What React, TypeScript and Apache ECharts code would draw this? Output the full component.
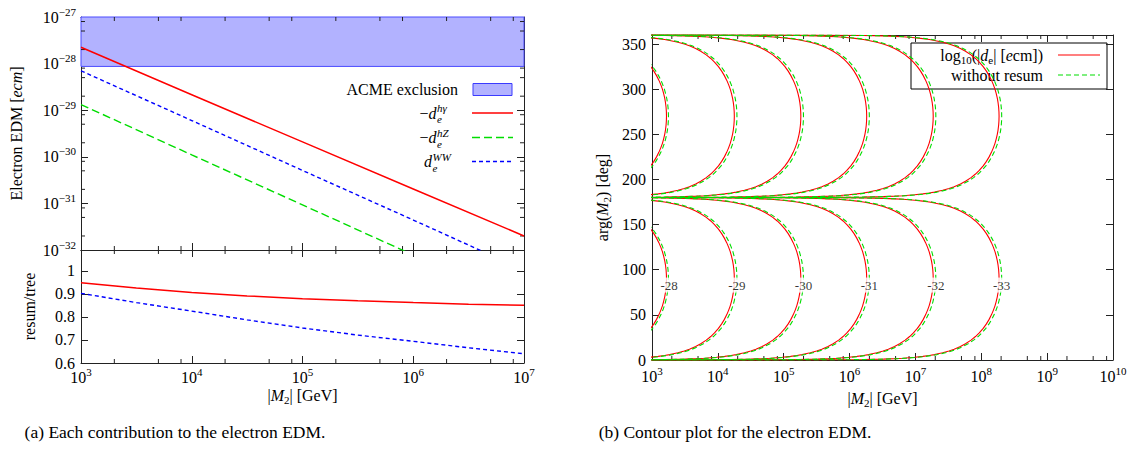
import React, { useEffect, useRef } from "react";
import * as echarts from "echarts";

const SERIF = "Liberation Serif, DejaVu Serif, serif";
const RED = "#ff0000";
const GREEN = "#00dd00";
const BLUE = "#0000ff";
const INK = "#222222";

// ---------- panel (a), upper: electron EDM contributions [e cm] ----------
const massA = [1e3, 1e4, 1e5, 1e6, 1e7];
const edmHGamma = [2.24e-28, 2.14e-29, 2.09e-30, 2.04e-31, 2.0e-32];
const edmHZ = [1.32e-29, 1.1e-30, 9.3e-32, 7.8e-33, 6.5e-34];
const edmWW = [7.0e-29, 6.0e-30, 5.1e-31, 4.4e-32, 3.7e-33];
const acmeLimit = 8.7e-29;
const acmeTop = 1e-27;
const edmAxisMin = 1e-32;
const edmAxisMax = 1e-27;
// values are plotted in units of 1e-32 e cm (labels show the true powers)
const EDM_UNIT = 1e-32;

// ---------- panel (a), lower: resum / tree ----------
const massRatio = [1e3, 3.16e3, 1e4, 3.16e4, 1e5, 3.16e5, 1e6, 3.16e6, 1e7];
const ratioHGamma = [0.948, 0.925, 0.906, 0.891, 0.879, 0.87, 0.862, 0.855, 0.85];
const ratioWW = [0.902, 0.862, 0.825, 0.787, 0.752, 0.721, 0.694, 0.666, 0.64];

// ---------- panel (b): contours of log10|d_e| ----------
const contourLevels = [-28, -29, -30, -31, -32, -33];
const peakLogMassResum = [3.22, 4.25, 5.26, 6.26, 7.27, 8.27];
const peakLogMassTree = [3.25, 4.29, 5.3, 6.3, 7.31, 8.31];
// shape of one contour branch: angle [deg] vs. shift of log10|M2| from the peak
const profileAngle = [0.0003, 0.001, 0.003, 0.01, 0.03, 0.1, 0.2, 0.5, 1, 1.5, 2, 3, 4, 5, 6, 8, 10, 12, 15, 18, 22, 26, 30, 35, 40, 45, 50, 55, 60, 65, 70, 75, 80, 85, 90];
const profileLogOffset = [-5.281, -4.758, -4.281, -3.758, -3.281, -2.758, -2.457, -2.059, -1.758, -1.582, -1.457, -1.281, -1.156, -1.06, -0.981, -0.856, -0.76, -0.682, -0.587, -0.51, -0.426, -0.358, -0.301, -0.241, -0.192, -0.151, -0.116, -0.087, -0.062, -0.043, -0.027, -0.015, -0.0066, -0.0017, 0];
const contourLabelAngle = 83;
const contourLabelShift = 0.04;

// ---------- ticks ----------
const minorMantissa = [2, 5, 8];
const decadesA = [3, 4, 5, 6];
const decadesB = [3, 4, 5, 6, 7, 8, 9];
const decadesEdm = [-32, -31, -30, -29, -28];

const zip = (xs: number[], ys: number[]) => xs.map((x, i) => [x, ys[i]]);
const toUnit = (v: number) => v / EDM_UNIT;
const minorValues = (decs: number[]) => {
  const out: number[] = [];
  decs.forEach((d) => minorMantissa.forEach((m) => out.push(m * Math.pow(10, d))));
  return out;
};

const powRich = {
  b: { fontFamily: SERIF, fontSize: 16, color: "#000", lineHeight: 22 },
  s: { fontFamily: SERIF, fontSize: 11, color: "#000", lineHeight: 12, verticalAlign: "top" },
};
const powText = (e: number) => `{b|10}{s|${e < 0 ? "\u2212" + -e : e}}`;
const powLabel = (v: number) => powText(Math.round(Math.log10(v)));
const powLabelEdm = (v: number) => powText(Math.round(Math.log10(v)) + Math.round(Math.log10(EDM_UNIT)));

const nameRich = {
  i: { fontFamily: SERIF, fontSize: 16, fontStyle: "italic", color: "#000", lineHeight: 20 },
  sub: { fontFamily: SERIF, fontSize: 11, color: "#000", lineHeight: 10, verticalAlign: "bottom" },
};

const lineStyle = { color: INK, width: 1 };

function logAxis(gridIndex: number, position: string, min: number, max: number, labels: boolean, extra: any = {}) {
  return {
    type: "log",
    logBase: 10,
    gridIndex,
    position,
    min,
    max,
    splitNumber: Math.round(Math.log10(max / min)),
    axisLine: { onZero: false, lineStyle },
    axisTick: { inside: true, length: 7, lineStyle },
    axisLabel: { show: labels, formatter: powLabel, rich: powRich, color: "#000", margin: 3 },
    splitLine: { show: false },
    minorTick: { show: false },
    ...extra,
  };
}

function valueAxis(gridIndex: number, position: string, min: number, max: number, interval: number, labels: boolean, fmt: (v: number) => string, extra: any = {}) {
  return {
    type: "value",
    gridIndex,
    position,
    min,
    max,
    interval,
    axisLine: { onZero: false, lineStyle },
    axisTick: { inside: true, length: 7, lineStyle },
    axisLabel: { show: labels, formatter: fmt, color: "#000", fontFamily: SERIF, fontSize: 16, margin: 6, showMaxLabel: false },
    splitLine: { show: false },
    ...extra,
  };
}

function xMinorTicks(axisIndex: number, values: number[], anchorY: number) {
  return {
    type: "custom",
    xAxisIndex: axisIndex,
    yAxisIndex: axisIndex,
    silent: true,
    clip: false,
    z: 3,
    data: values.map((v) => [v, anchorY]),
    renderItem: (params: any, api: any) => {
      const cs = params.coordSys;
      const px = api.coord([api.value(0), api.value(1)])[0];
      const yb = cs.y + cs.height;
      return {
        type: "group",
        children: [
          { type: "line", shape: { x1: px, y1: yb, x2: px, y2: yb - 4 }, style: { stroke: INK, lineWidth: 1 } },
          { type: "line", shape: { x1: px, y1: cs.y, x2: px, y2: cs.y + 4 }, style: { stroke: INK, lineWidth: 1 } },
        ],
      };
    },
  };
}

function yMinorTicks(axisIndex: number, values: number[], anchorX: number) {
  return {
    type: "custom",
    xAxisIndex: axisIndex,
    yAxisIndex: axisIndex,
    silent: true,
    clip: false,
    z: 3,
    data: values.map((v) => [anchorX, v]),
    renderItem: (params: any, api: any) => {
      const cs = params.coordSys;
      const py = api.coord([api.value(0), api.value(1)])[1];
      const xr = cs.x + cs.width;
      return {
        type: "group",
        children: [
          { type: "line", shape: { x1: cs.x, y1: py, x2: cs.x + 4, y2: py }, style: { stroke: INK, lineWidth: 1 } },
          { type: "line", shape: { x1: xr, y1: py, x2: xr - 4, y2: py }, style: { stroke: INK, lineWidth: 1 } },
        ],
      };
    },
  };
}

function contourBranches(peaks: number[], color: string, dashed: boolean, z: number) {
  const out: any[] = [];
  const n = profileAngle.length;
  peaks.forEach((pk) => {
    [0, 180].forEach((base) => {
      const pts: number[][] = [];
      for (let i = 0; i < n; i++) pts.push([Math.pow(10, pk + profileLogOffset[i]), base + profileAngle[i]]);
      for (let i = n - 2; i >= 0; i--) pts.push([Math.pow(10, pk + profileLogOffset[i]), base + 180 - profileAngle[i]]);
      out.push({
        type: "line",
        xAxisIndex: 4,
        yAxisIndex: 4,
        data: pts,
        symbol: "none",
        showSymbol: false,
        clip: true,
        z,
        lineStyle: { color, width: 1.1, type: dashed ? [5, 3] : "solid" },
      });
    });
  });
  return out;
}

const App = () => {
  const ref = useRef<HTMLDivElement>(null);
  useEffect(() => {
    const chart = echarts.init(ref.current!, null, { renderer: "svg" });

    const series: any[] = [
      {
        type: "line",
        name: "ACME exclusion",
        xAxisIndex: 0,
        yAxisIndex: 0,
        data: [[massA[0], toUnit(acmeLimit)]],
        symbol: "none",
        lineStyle: { width: 0 },
        z: 1,
        markArea: {
          silent: true,
          itemStyle: { color: "#b2b2ff", borderColor: "#4a4aff", borderWidth: 1 },
          data: [[{ yAxis: toUnit(acmeLimit) }, { yAxis: toUnit(acmeTop) }]],
        },
      },
      { type: "line", xAxisIndex: 0, yAxisIndex: 0, data: zip(massA, edmHZ.map(toUnit)), symbol: "none", clip: true, z: 4, lineStyle: { color: GREEN, width: 1.4, type: [8, 4] } },
      { type: "line", xAxisIndex: 0, yAxisIndex: 0, data: zip(massA, edmWW.map(toUnit)), symbol: "none", clip: true, z: 4, lineStyle: { color: BLUE, width: 1.4, type: [4, 3] } },
      { type: "line", xAxisIndex: 0, yAxisIndex: 0, data: zip(massA, edmHGamma.map(toUnit)), symbol: "none", clip: true, z: 5, lineStyle: { color: RED, width: 1.5 } },
      { type: "line", xAxisIndex: 2, yAxisIndex: 2, data: zip(massRatio, ratioWW), symbol: "none", clip: true, z: 4, lineStyle: { color: BLUE, width: 1.4, type: [4, 3] } },
      { type: "line", xAxisIndex: 2, yAxisIndex: 2, data: zip(massRatio, ratioHGamma), symbol: "none", clip: true, z: 5, lineStyle: { color: RED, width: 1.5 } },
      xMinorTicks(0, minorValues(decadesA), 100),
      yMinorTicks(0, minorValues(decadesEdm).map(toUnit), 1e4),
      xMinorTicks(2, minorValues(decadesA), 0.8),
      xMinorTicks(4, minorValues(decadesB), 100),
      ...contourBranches(peakLogMassResum, RED, false, 4),
      ...contourBranches(peakLogMassTree, GREEN, true, 5),
      {
        type: "scatter",
        xAxisIndex: 4,
        yAxisIndex: 4,
        symbol: "rect",
        symbolSize: 1,
        itemStyle: { color: "rgba(0,0,0,0)" },
        z: 8,
        silent: true,
        data: contourLevels.map((lv, i) => ({ name: String(lv), value: [Math.pow(10, peakLogMassResum[i] + contourLabelShift), contourLabelAngle] })),
        label: {
          show: true,
          position: "inside",
          formatter: (p: any) => p.name,
          fontFamily: SERIF,
          fontSize: 13,
          color: "#000",
          backgroundColor: "#fff",
          padding: [1, 1],
        },
      },
    ];

    const legendA: any[] = [
      { type: "text", x: 458, y: 89.5, style: { text: "ACME exclusion", align: "right", verticalAlign: "middle", fontFamily: SERIF, fontSize: 16, fill: "#000" } },
      { type: "rect", shape: { x: 473, y: 83.5, width: 39, height: 12 }, style: { fill: "#b2b2ff", stroke: "#3a3aff", lineWidth: 1 } },
    ];
    const legendRows = [
      { y: 113, pre: "\u2212", sup: "h\u03b3", xs: 436.5, color: RED, dash: "solid" as any, w: 1.5 },
      { y: 137.5, pre: "\u2212", sup: "hZ", xs: 436.5, color: GREEN, dash: [8, 4], w: 1.4 },
      { y: 161.5, pre: "", sup: "WW", xs: 432, color: BLUE, dash: [4, 3], w: 1.4 },
    ];
    legendRows.forEach((r) => {
      legendA.push(
        {
          type: "text",
          x: r.xs,
          y: r.y,
          style: {
            text: `${r.pre}{i|d}`,
            align: "right",
            verticalAlign: "middle",
            fontFamily: SERIF,
            fontSize: 16,
            fill: "#000",
            rich: { i: { fontFamily: SERIF, fontSize: 16, fontStyle: "italic", fill: "#000" } },
          },
        },
        { type: "text", x: r.xs + 0.5, y: r.y - 5, style: { text: r.sup, align: "left", verticalAlign: "middle", fontFamily: SERIF, fontSize: 11, fontStyle: "italic", fill: "#000" } },
        { type: "text", x: r.xs + 0.5, y: r.y + 6, style: { text: "e", align: "left", verticalAlign: "middle", fontFamily: SERIF, fontSize: 11, fontStyle: "italic", fill: "#000" } },
        { type: "line", shape: { x1: 472, y1: r.y, x2: 513, y2: r.y }, style: { stroke: r.color, lineWidth: r.w, lineDash: r.dash === "solid" ? null : r.dash } }
      );
    });

    const legendB: any[] = [
      { type: "rect", shape: { x: 911, y: 43, width: 196, height: 46 }, style: { fill: "#fff", stroke: "#000", lineWidth: 1 } },
      {
        type: "text",
        x: 1043,
        y: 55,
        style: {
          text: "log{sub|10}(|{i|d}{sub|e}| [{i|e}cm])",
          align: "right",
          verticalAlign: "middle",
          fontFamily: SERIF,
          fontSize: 16,
          lineHeight: 20,
          fill: "#000",
          rich: {
            i: { fontFamily: SERIF, fontSize: 16, fontStyle: "italic", fill: "#000", lineHeight: 20 },
            sub: { fontFamily: SERIF, fontSize: 11, fill: "#000", lineHeight: 10, verticalAlign: "bottom" },
          },
        },
      },
      { type: "line", shape: { x1: 1058, y1: 55, x2: 1100, y2: 55 }, style: { stroke: RED, lineWidth: 1.2 } },
      { type: "text", x: 1043, y: 75, style: { text: "without resum", align: "right", verticalAlign: "middle", fontFamily: SERIF, fontSize: 16, fill: "#000" } },
      { type: "line", shape: { x1: 1058, y1: 75, x2: 1100, y2: 75 }, style: { stroke: GREEN, lineWidth: 1.2, lineDash: [5, 3] } },
    ];

    const captions: any[] = [
      { type: "text", x: 175, y: 432, style: { text: "(a) Each contribution to the electron EDM.", align: "center", verticalAlign: "middle", fontFamily: SERIF, fontSize: 17.5, fill: "#000" } },
      { type: "text", x: 735, y: 432, style: { text: "(b) Contour plot for the electron EDM.", align: "center", verticalAlign: "middle", fontFamily: SERIF, fontSize: 17.5, fill: "#000" } },
    ];

    const option: any = {
      animation: false,
      backgroundColor: "#fff",
      textStyle: { fontFamily: SERIF },
      grid: [
        { left: 81, top: 17, width: 443, height: 233, containLabel: false, outerBoundsMode: "none" },
        { left: 81, top: 250, width: 443, height: 113, containLabel: false, outerBoundsMode: "none" },
        { left: 652, top: 35, width: 461, height: 325, containLabel: false, outerBoundsMode: "none" },
      ],
      xAxis: [
        logAxis(0, "bottom", 1e3, 1e7, false),
        logAxis(0, "top", 1e3, 1e7, false),
        logAxis(1, "bottom", 1e3, 1e7, true, {
          name: "|{i|M}{sub|2}| [GeV]",
          nameLocation: "middle",
          nameGap: 17,
          nameTextStyle: { fontFamily: SERIF, fontSize: 16, color: "#000", lineHeight: 20, rich: nameRich },
        }),
        logAxis(1, "top", 1e3, 1e7, false),
        logAxis(2, "bottom", 1e3, 1e10, true, {
          name: "|{i|M}{sub|2}| [GeV]",
          nameLocation: "middle",
          nameGap: 20,
          nameTextStyle: { fontFamily: SERIF, fontSize: 16, color: "#000", lineHeight: 20, rich: nameRich },
          axisLabel: { show: true, formatter: powLabel, rich: powRich, color: "#000", margin: 5 },
        }),
        logAxis(2, "top", 1e3, 1e10, false),
      ],
      yAxis: [
        logAxis(0, "left", toUnit(edmAxisMin), toUnit(edmAxisMax), true, {
          name: "Electron EDM [{i|ecm}]",
          nameLocation: "middle",
          nameRotate: 90,
          nameGap: 55,
          nameTextStyle: { fontFamily: SERIF, fontSize: 16, color: "#000", lineHeight: 20, rich: nameRich },
          axisLabel: { show: true, formatter: powLabelEdm, rich: powRich, color: "#000", margin: 5 },
        }),
        logAxis(0, "right", toUnit(edmAxisMin), toUnit(edmAxisMax), false),
        valueAxis(1, "left", 0.6, 1.09, 0.1, true, (v: number) => {
          const r = Math.round(v * 10) / 10;
          return r === 1 ? "1" : r.toFixed(1);
        }, {
          name: "resum/tree",
          nameLocation: "middle",
          nameRotate: 90,
          nameGap: 44,
          nameTextStyle: { fontFamily: SERIF, fontSize: 16, color: "#000" },
        }),
        valueAxis(1, "right", 0.6, 1.09, 0.1, false, (v: number) => String(v)),
        valueAxis(2, "left", 0, 360, 50, true, (v: number) => String(Math.round(v)), {
          name: "arg({i|M}{sub|2}) [deg]",
          nameLocation: "middle",
          nameRotate: 90,
          nameGap: 40,
          nameTextStyle: { fontFamily: SERIF, fontSize: 16, color: "#000", lineHeight: 20, rich: nameRich },
        }),
        valueAxis(2, "right", 0, 360, 50, false, (v: number) => String(v)),
      ],
      series,
      graphic: [
        { type: "group", z: 100, children: legendA },
        { type: "group", z: 100, children: legendB },
        { type: "group", z: 100, children: captions },
      ],
    };

    chart.setOption(option);
    return () => chart.dispose();
  }, []);

  return <div ref={ref} style={{ position: "fixed", left: 0, top: 0, width: 1131, height: 453, background: "#fff" }} />;
};

export default App;
